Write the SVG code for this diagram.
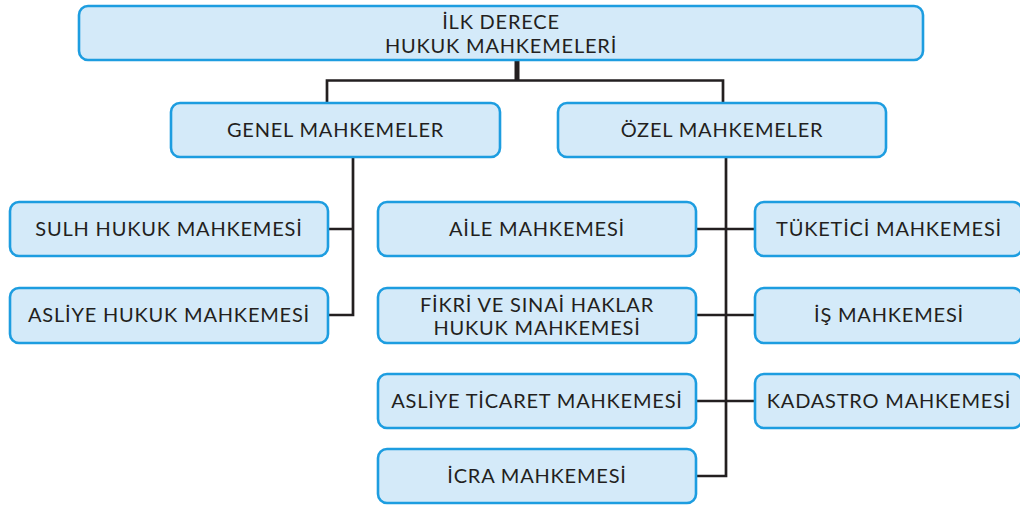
<svg xmlns="http://www.w3.org/2000/svg" width="1020" height="508" viewBox="0 0 1020 508">
<style>
.box{fill:#d4eaf9;stroke:#1d9de0;stroke-width:2.6}
.t{font-family:Lato,"Liberation Sans",sans-serif;font-size:20px;letter-spacing:0.8px;fill:#231f20;text-anchor:middle}
.c{stroke:#231f20;stroke-width:2.7;fill:none}
</style>
<rect width="1020" height="508" fill="#fff"/>
<g id="connectors">
<path class="c" d="M517 60V81" style="stroke-width:5"/>
<path class="c" d="M327 104V80.5H723V104"/>
<path class="c" d="M353 157V315H328M328 229H353"/>
<path class="c" d="M726 157V476H696M696 229H755M696 315H755M696 401H755"/>
</g>
<g id="n-ilk"><rect class="box" x="79" y="6" width="844" height="54" rx="9"/><text class="t" x="501" y="29">İLK DERECE</text><text class="t" x="501" y="53">HUKUK MAHKEMELERİ</text></g>
<g id="n-genel"><rect class="box" x="171" y="103" width="329" height="54" rx="9"/><text class="t" x="335.5" y="137">GENEL MAHKEMELER</text></g>
<g id="n-ozel"><rect class="box" x="558" y="103" width="328" height="54" rx="9"/><text class="t" x="722" y="137">ÖZEL MAHKEMELER</text></g>
<g id="n-sulh"><rect class="box" x="10" y="202" width="318" height="54" rx="9"/><text class="t" x="169" y="236">SULH HUKUK MAHKEMESİ</text></g>
<g id="n-asliye"><rect class="box" x="10" y="288" width="318" height="55" rx="9"/><text class="t" x="169" y="322">ASLİYE HUKUK MAHKEMESİ</text></g>
<g id="n-aile"><rect class="box" x="378" y="202" width="318" height="54" rx="9"/><text class="t" x="537" y="236">AİLE MAHKEMESİ</text></g>
<g id="n-fikri"><rect class="box" x="378" y="288" width="318" height="55" rx="9"/><text class="t" x="537" y="312">FİKRİ VE SINAİ HAKLAR</text><text class="t" x="537" y="335">HUKUK MAHKEMESİ</text></g>
<g id="n-ticaret"><rect class="box" x="378" y="374" width="318" height="54" rx="9"/><text class="t" x="537" y="408">ASLİYE TİCARET MAHKEMESİ</text></g>
<g id="n-icra"><rect class="box" x="378" y="449" width="318" height="54" rx="9"/><text class="t" x="537" y="483">İCRA MAHKEMESİ</text></g>
<g id="n-tuketici"><rect class="box" x="755" y="202" width="267" height="54" rx="9"/><text class="t" x="889" y="236">TÜKETİCİ MAHKEMESİ</text></g>
<g id="n-is"><rect class="box" x="755" y="288" width="267" height="55" rx="9"/><text class="t" x="889" y="322">İŞ MAHKEMESİ</text></g>
<g id="n-kadastro"><rect class="box" x="755" y="374" width="267" height="54" rx="9"/><text class="t" x="889" y="408">KADASTRO MAHKEMESİ</text></g>
</svg>
